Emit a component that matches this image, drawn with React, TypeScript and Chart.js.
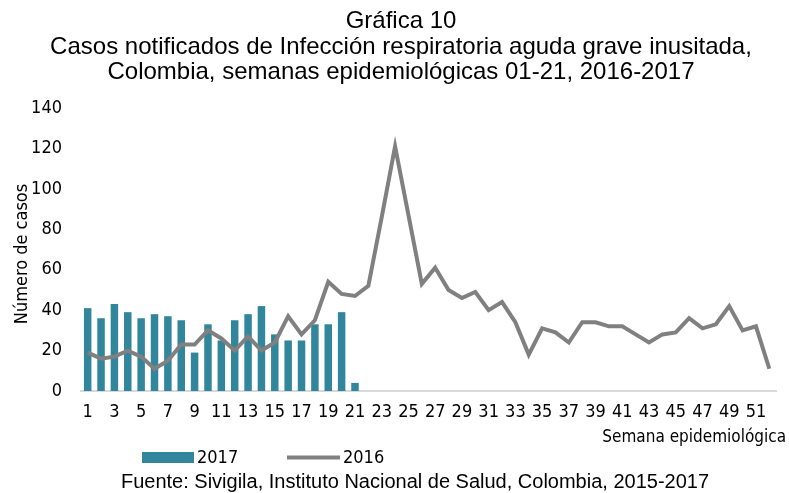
import React, { useEffect, useRef } from "react";
import { Chart, registerables } from "chart.js";

Chart.register(...registerables);

const weeks: string[] = Array.from({ length: 52 }, (_, i) => String(i + 1));
const cases2017: (number | null)[] = [
  41, 36, 43, 39, 36, 38, 37, 35, 19, 33, 25, 35, 38, 42, 28, 25, 25, 33, 33, 39, 4,
];
const cases2016: number[] = [
  19, 16, 17, 20, 17, 11, 15, 23, 23, 30, 26, 20, 27, 20, 24, 37, 28, 35, 54, 48,
  47, 52, 86, 121, 87, 53, 61, 50, 46, 49, 40, 44, 34, 18, 31, 29, 24, 34, 34, 32,
  32, 28, 24, 28, 29, 36, 31, 33, 42, 30, 32, 11,
];
const yTicks: number[] = [0, 20, 40, 60, 80, 100, 120, 140];

const titleLines = [
  "Gráfica 10",
  "Casos notificados de Infección respiratoria aguda grave inusitada,",
  "Colombia, semanas epidemiológicas 01-21, 2016-2017",
];
const xTitle = "Semana epidemiológica";
const yTitle = "Número de casos";
const sourceText = "Fuente: Sivigila, Instituto Nacional de Salud, Colombia, 2015-2017";

const BAR_COLOR = "#31869b";
const LINE_COLOR = "#808080";
const NARROW = "'Liberation Sans Narrow', 'Arial Narrow', 'DejaVu Sans Condensed', sans-serif";
const SANS = "'Liberation Sans', Arial, sans-serif";

const textPlugin = {
  id: "texts",
  afterDraw(chart: any) {
    const ctx = chart.ctx as CanvasRenderingContext2D;
    ctx.save();
    ctx.fillStyle = "#000";
    ctx.textBaseline = "middle";
    ctx.textAlign = "center";
    ctx.font = `24px ${SANS}`;
    ctx.fillText(titleLines[0], 401, 21);
    ctx.fillText(titleLines[1], 401, 47);
    ctx.fillText(titleLines[2], 401, 72);

    // x title
    ctx.font = `17px ${NARROW}`;
    ctx.textAlign = "right";
    ctx.fillText(xTitle, 786, 438);

    // y title
    ctx.save();
    ctx.translate(22, 254);
    ctx.rotate(-Math.PI / 2);
    ctx.textAlign = "center";
    ctx.font = `18px ${NARROW}`;
    ctx.fillText(yTitle, 0, 0);
    ctx.restore();

    // legend
    ctx.fillStyle = BAR_COLOR;
    ctx.fillRect(142, 452, 52, 11);
    ctx.strokeStyle = LINE_COLOR;
    ctx.lineWidth = 4;
    ctx.beginPath();
    ctx.moveTo(287, 457.5);
    ctx.lineTo(340, 457.5);
    ctx.stroke();
    ctx.fillStyle = "#000";
    ctx.textAlign = "left";
    ctx.font = `18px ${NARROW}`;
    ctx.fillText(chart.data.datasets[0].label, 197, 458);
    ctx.fillText(chart.data.datasets[1].label, 343, 458);

    // source
    ctx.textAlign = "center";
    ctx.font = `20px ${SANS}`;
    ctx.fillText(sourceText, 415, 482);
    ctx.restore();
  },
};

export default function App() {
  const ref = useRef<HTMLCanvasElement | null>(null);
  useEffect(() => {
    if (!ref.current) return;
    const chart = new Chart(ref.current, {
      type: "bar",
      data: {
        labels: weeks,
        datasets: [
          {
            type: "bar",
            label: "2017",
            data: cases2017,
            backgroundColor: BAR_COLOR,
            borderWidth: 0,
            categoryPercentage: 1,
            barPercentage: 0.56,
            order: 2,
          },
          {
            type: "line",
            label: "2016",
            data: cases2016,
            borderColor: LINE_COLOR,
            backgroundColor: LINE_COLOR,
            borderWidth: 4,
            pointRadius: 0,
            tension: 0,
            order: 1,
          },
        ],
      },
      options: {
        animation: false,
        responsive: false,
        maintainAspectRatio: false,
        layout: { padding: { top: 108, right: 13, bottom: 0, left: 0 } },
        plugins: {
          legend: { display: false },
          title: { display: false },
          tooltip: { enabled: false },
        },
        scales: {
          x: {
            grid: { display: false, drawTicks: false },
            border: { display: true, color: "#d9d9d9", width: 2 },
            ticks: {
              autoSkip: false,
              maxRotation: 0,
              minRotation: 0,
              padding: 11,
              color: "#000",
              font: { family: NARROW, size: 18 },
              callback: (_v: any, i: number) => (i % 2 === 0 ? weeks[i] : ""),
            },
            afterFit: (s: any) => {
              s.height = 493 - 391;
            },
          },
          y: {
            min: 0,
            max: 140,
            afterBuildTicks: (s: any) => {
              s.ticks = yTicks.map((v) => ({ value: v }));
            },
            grid: { display: false, drawTicks: false },
            border: { display: false },
            ticks: {
              padding: 19,
              color: "#000",
              font: { family: NARROW, size: 18 },
            },
            afterFit: (s: any) => {
              s.width = 81;
            },
          },
        },
      },
      plugins: [textPlugin],
    });
    return () => chart.destroy();
  }, []);
  return (
    <div style={{ position: "fixed", left: 0, top: 0, width: 789, height: 493, background: "#fff" }}>
      <canvas ref={ref} width={789} height={493} style={{ width: 789, height: 493 }} />
    </div>
  );
}
